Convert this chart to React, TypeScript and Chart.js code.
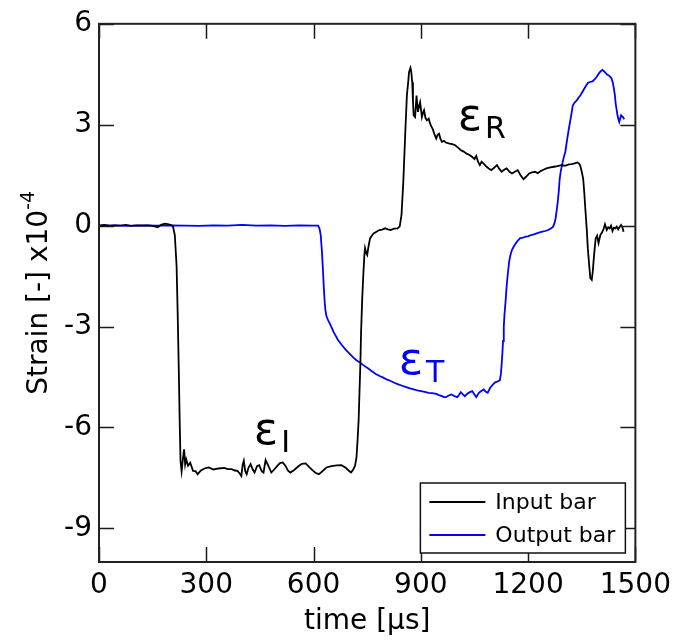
import React, { useEffect, useRef } from "react";
import { Chart, registerables } from "chart.js";

Chart.register(...registerables);

// ---- data (time in µs, strain in 1e-4) ----
const inputTime = [
  0, 15, 30, 45, 60, 75, 90, 105, 120, 135, 150, 164, 175, 185, 195, 203, 207, 212, 217, 220,
  223, 226, 228, 231, 235, 238, 241, 244, 249, 255, 263, 270, 276, 285, 295, 307, 320, 335, 350, 360,
  371, 380, 387, 393, 398, 402, 405, 409, 413, 418, 424, 430, 435, 442, 448, 455, 460, 466, 474, 482,
  490, 498, 506, 514, 522, 528, 535, 545, 556, 567, 578, 588, 599, 607, 615, 625, 636, 650, 665, 678,
  690, 698, 705, 711, 716, 720, 723, 726, 728, 731, 733, 736, 739, 742, 744, 747, 750, 754, 758, 763,
  768, 776, 784, 792, 800, 808, 816, 825, 835, 841, 846, 851, 857, 861, 865, 867, 871, 873, 876, 878,
  880, 884, 888, 890, 892, 895, 898, 903, 906, 909, 913, 917, 922, 927, 933, 938, 943, 947, 951, 955,
  959, 965, 970, 980, 988, 996, 1004, 1012, 1020, 1028, 1036, 1044, 1050, 1055, 1060, 1065, 1070, 1075, 1084, 1090,
  1097, 1105, 1113, 1120, 1126, 1133, 1140, 1148, 1155, 1163, 1171, 1179, 1187, 1195, 1203, 1211, 1219, 1227, 1235, 1243,
  1251, 1262, 1272, 1282, 1293, 1303, 1314, 1322, 1330, 1338, 1343, 1346, 1350, 1354, 1357, 1360, 1364, 1367, 1371, 1374,
  1378, 1381, 1383, 1386, 1389, 1393, 1397, 1402, 1407, 1411, 1415, 1420, 1424, 1428, 1432, 1436, 1440, 1444, 1448, 1452,
  1456, 1460, 1464, 1467,
];
const inputStrain = [
  0, 0.02, -0.01, 0.01, 0, 0.02, -0.01, 0.01, 0, 0.01, -0.01, -0.05, 0.03, 0.06, 0.04, 0.01, -0.03, -0.28, -1.2, -2.6,
  -4.2, -6.0, -7.0, -7.3, -6.9, -6.65, -7.1, -6.95, -7.14, -7.05, -7.29, -7.3, -7.39, -7.28, -7.22, -7.19, -7.25, -7.22, -7.2, -7.24,
  -7.24, -7.28, -7.29, -7.36, -7.44, -7.1, -6.99, -7.3, -7.39, -7.2, -7.09, -7.25, -7.34, -7.15, -7.12, -7.3, -7.34, -6.97, -7.15, -7.34,
  -7.25, -7.15, -7.06, -7.04, -7.15, -7.28, -7.34, -7.27, -7.17, -7.08, -7.07, -7.18, -7.29, -7.36, -7.39, -7.3, -7.19, -7.15, -7.13, -7.12,
  -7.2, -7.28, -7.34, -7.25, -7.14, -6.9, -6.4, -5.8, -5.11, -4.1, -3.14, -2.2, -1.5, -0.9, -0.67, -0.8, -0.87, -0.6, -0.38, -0.3,
  -0.23, -0.18, -0.13, -0.12, -0.08, -0.11, -0.13, -0.09, -0.08, -0.02, 0.32, 1.3, 2.88, 3.87, 4.3, 4.56, 4.69, 4.6, 4.26, 3.7,
  3.28, 3.23, 3.87, 3.6, 3.38, 3.55, 3.67, 3.23, 3.35, 3.43, 3.2, 3.13, 3.18, 3.0, 2.88, 2.72, 2.59, 2.7, 2.73, 2.58,
  2.49, 2.52, 2.47, 2.44, 2.42, 2.39, 2.32, 2.24, 2.2, 2.14, 2.1, 2.04, 1.98, 2.07, 1.9, 1.8, 1.9, 1.85, 1.75, 1.7,
  1.65, 1.72, 1.8, 1.68, 1.6, 1.66, 1.7, 1.6, 1.55, 1.6, 1.65, 1.5, 1.38, 1.46, 1.55, 1.58, 1.6, 1.56, 1.62, 1.66,
  1.7, 1.73, 1.75, 1.77, 1.8, 1.78, 1.82, 1.83, 1.85, 1.88, 1.84, 1.78, 1.6, 1.4, 1.0, 0.51, -0.1, -0.67, -1.2, -1.56,
  -1.61, -1.35, -1.07, -0.7, -0.38, -0.3, -0.52, -0.28, -0.2, -0.1, 0.04, -0.13, -0.05, -0.08, 0.0, -0.16, -0.06, -0.08, -0.03, -0.11,
  -0.04, 0.02, -0.06, -0.18,
];

const outputTime = [
  0, 40, 80, 120, 160, 200, 240, 280, 320, 360, 400, 440, 480, 520, 560, 600, 613, 617, 620, 623,
  626, 629, 631, 633, 636, 641, 647, 657, 668, 679, 689, 700, 710, 720, 731, 742, 753, 763, 774, 785,
  795, 806, 816, 826, 837, 848, 859, 870, 880, 890, 901, 911, 922, 932, 943, 951, 959, 965, 970, 978,
  986, 994, 1002, 1007, 1012, 1018, 1023, 1030, 1037, 1044, 1050, 1055, 1062, 1068, 1076, 1081, 1087, 1094, 1102, 1108,
  1113, 1121, 1124, 1126, 1128, 1130, 1132, 1134, 1137, 1140, 1143, 1147, 1151, 1155, 1160, 1166, 1171, 1177, 1185, 1193,
  1200, 1208, 1216, 1224, 1232, 1240, 1248, 1256, 1263, 1270, 1274, 1277, 1280, 1283, 1286, 1288, 1291, 1295, 1299, 1304,
  1309, 1314, 1320, 1325, 1330, 1336, 1341, 1346, 1351, 1357, 1362, 1367, 1373, 1380, 1386, 1391, 1395, 1399, 1404, 1408,
  1411, 1415, 1420, 1426, 1430, 1433, 1437, 1440, 1443, 1445, 1448, 1450, 1453, 1455, 1458, 1460, 1463, 1465, 1469,
];
const outputStrain = [
  0, 0.01, -0.01, 0.01, 0, 0.01, 0, -0.01, 0.01, 0, 0.02, 0, 0.01, -0.01, 0.01, 0, 0, -0.1, -0.28, -0.7,
  -1.26, -1.9, -2.25, -2.5, -2.69, -2.82, -2.94, -3.18, -3.39, -3.55, -3.68, -3.8, -3.91, -4.0, -4.08, -4.17, -4.25, -4.33, -4.41, -4.47,
  -4.52, -4.58, -4.62, -4.67, -4.72, -4.76, -4.8, -4.84, -4.87, -4.9, -4.92, -4.94, -4.97, -4.98, -5.0, -5.04, -5.07, -5.1, -5.1, -5.05,
  -5.02, -5.07, -5.1, -5.03, -4.95, -5.02, -5.07, -5.0, -4.95, -4.92, -5.02, -5.1, -4.98, -4.92, -4.87, -4.93, -4.97, -4.82, -4.72, -4.66,
  -4.64, -4.6, -4.4, -4.13, -3.8, -3.43, -3.0, -2.64, -2.25, -1.8, -1.46, -1.07, -0.86, -0.72, -0.62, -0.52, -0.45, -0.38, -0.36, -0.33,
  -0.32, -0.28, -0.26, -0.23, -0.2, -0.18, -0.16, -0.13, -0.09, -0.03, 0.08, 0.22, 0.45, 0.71, 1.05, 1.35, 1.6, 1.8, 2.0, 2.19,
  2.55, 2.88, 3.25, 3.57, 3.66, 3.72, 3.8, 3.87, 3.96, 4.07, 4.16, 4.24, 4.27, 4.29, 4.35, 4.41, 4.48, 4.54, 4.6, 4.63,
  4.6, 4.56, 4.5, 4.46, 4.42, 4.38, 4.25, 4.07, 3.85, 3.62, 3.42, 3.28, 3.15, 3.08, 3.2, 3.28, 3.25, 3.23, 3.16,
];

const seriesLabels = ["Input bar", "Output bar"];
const seriesColors = ["#000000", "#0000ff"];

const xTickValues = [0, 300, 600, 900, 1200, 1500];
const xTickLabels = ["0", "300", "600", "900", "1200", "1500"];
const yTickValues = [-9, -6, -3, 0, 3, 6];
const yTickLabels = ["-9", "-6", "-3", "0", "3", "6"];

const xTitle = "time [μs]";
const yTitleMain = "Strain [-] x10";
const yTitleSup = "-4";

// annotation labels: base symbol, subscript, anchor (time, strain), colour
const annoBase = ["ε", "ε", "ε"];
const annoSub = ["R", "T", "I"];
const annoTime = [1003, 838, 433];
const annoStrain = [2.84, -4.41, -6.48];
const annoColor = ["#000000", "#0000ff", "#000000"];

const FONT = "'DejaVu Sans', 'Liberation Sans', sans-serif";

const decorPlugin = {
  id: "decor",
  afterDatasetsDraw(chart: any) {
    const { ctx, chartArea: a, scales } = chart;
    const xs = scales.x;
    const ys = scales.y;
    const TICK = 15;
    ctx.save();
    // inward ticks on all four sides
    ctx.strokeStyle = "#1a1a1a";
    ctx.lineWidth = 1.5;
    ctx.beginPath();
    xTickValues.forEach((v) => {
      const px = Math.round(xs.getPixelForValue(v)) + 0.5;
      ctx.moveTo(px, a.bottom);
      ctx.lineTo(px, a.bottom - TICK);
      ctx.moveTo(px, a.top);
      ctx.lineTo(px, a.top + TICK);
    });
    yTickValues.forEach((v) => {
      const py = Math.round(ys.getPixelForValue(v)) + 0.5;
      ctx.moveTo(a.left, py);
      ctx.lineTo(a.left + TICK, py);
      ctx.moveTo(a.right, py);
      ctx.lineTo(a.right - TICK, py);
    });
    ctx.stroke();
    // frame
    ctx.lineWidth = 2;
    ctx.strokeStyle = "#222222";
    ctx.strokeRect(a.left, a.top, a.right - a.left, a.bottom - a.top);

    // annotations (epsilon with subscript)
    for (let i = 0; i < annoBase.length; i++) {
      const x = xs.getPixelForValue(annoTime[i]);
      const y = ys.getPixelForValue(annoStrain[i]);
      ctx.fillStyle = annoColor[i];
      ctx.textBaseline = "alphabetic";
      ctx.textAlign = "left";
      ctx.font = `45px ${FONT}`;
      ctx.fillText(annoBase[i], x, y);
      const w = ctx.measureText(annoBase[i]).width;
      ctx.font = `30px ${FONT}`;
      ctx.fillText(annoSub[i], x + w + 3, y + 8);
    }

    // legend box
    const bw = 205;
    const bh = 70;
    const bx = a.right - 10 - bw;
    const by = a.bottom - 9 - bh;
    ctx.fillStyle = "#ffffff";
    ctx.fillRect(bx, by, bw, bh);
    ctx.lineWidth = 1.5;
    ctx.strokeStyle = "#111111";
    ctx.strokeRect(bx, by, bw, bh);
    ctx.font = `22px ${FONT}`;
    ctx.textBaseline = "middle";
    ctx.textAlign = "left";
    chart.data.datasets.forEach((ds: any, i: number) => {
      const ry = by + 19 + i * 33;
      ctx.strokeStyle = ds.borderColor;
      ctx.lineWidth = 1.8;
      ctx.beginPath();
      ctx.moveTo(bx + 9, ry);
      ctx.lineTo(bx + 65, ry);
      ctx.stroke();
      ctx.fillStyle = "#000000";
      ctx.fillText(ds.label, bx + 75, ry + 1);
    });

    // y-axis title with superscript
    const mainFont = `28px ${FONT}`;
    const supFont = `19px ${FONT}`;
    ctx.font = mainFont;
    const wMain = ctx.measureText(yTitleMain).width;
    ctx.font = supFont;
    const wSup = ctx.measureText(yTitleSup).width;
    const total = wMain + wSup;
    const cy = (a.top + a.bottom) / 2;
    ctx.translate(47, cy);
    ctx.rotate(-Math.PI / 2);
    ctx.fillStyle = "#000000";
    ctx.textBaseline = "alphabetic";
    ctx.font = mainFont;
    ctx.fillText(yTitleMain, -total / 2, 0);
    ctx.font = supFont;
    ctx.fillText(yTitleSup, -total / 2 + wMain, -13);
    ctx.restore();
  },
};

export default function App() {
  const canvasRef = useRef<HTMLCanvasElement | null>(null);

  useEffect(() => {
    const canvas = canvasRef.current;
    if (!canvas) return;
    const inputData = inputTime.map((t, i) => ({ x: t, y: inputStrain[i] }));
    const outputData = outputTime.map((t, i) => ({ x: t, y: outputStrain[i] }));
    const tickFont = { family: FONT, size: 28 };
    const chart = new Chart(canvas, {
      type: "line",
      data: {
        datasets: [
          {
            label: seriesLabels[0],
            data: inputData,
            borderColor: seriesColors[0],
            borderWidth: 1.8,
            pointRadius: 0,
            fill: false,
            tension: 0,
          },
          {
            label: seriesLabels[1],
            data: outputData,
            borderColor: seriesColors[1],
            borderWidth: 1.8,
            pointRadius: 0,
            fill: false,
            tension: 0,
          },
        ],
      },
      options: {
        responsive: false,
        devicePixelRatio: 1,
        animation: false,
        layout: { padding: { left: 0, top: 22, right: 35, bottom: 0 } },
        plugins: {
          legend: { display: false },
          tooltip: { enabled: false },
        },
        scales: {
          x: {
            type: "linear",
            min: 0,
            max: 1500,
            afterBuildTicks: (s: any) => {
              s.ticks = xTickValues.map((v) => ({ value: v }));
            },
            afterFit: (s: any) => {
              s.height = 80;
            },
            grid: { display: false, drawTicks: false },
            border: { display: false },
            ticks: {
              font: tickFont,
              color: "#000000",
              padding: 7,
              maxRotation: 0,
              autoSkip: false,
              callback: (_v: any, i: number) => xTickLabels[i],
            },
            title: {
              display: true,
              text: xTitle,
              font: tickFont,
              color: "#000000",
              padding: { top: 0, bottom: 3 },
            },
          },
          y: {
            type: "linear",
            min: -10,
            max: 6,
            afterBuildTicks: (s: any) => {
              s.ticks = yTickValues.map((v) => ({ value: v }));
            },
            afterFit: (s: any) => {
              s.width = 99;
            },
            grid: { display: false, drawTicks: false },
            border: { display: false },
            ticks: {
              font: tickFont,
              color: "#000000",
              padding: 7,
              autoSkip: false,
              callback: (_v: any, i: number) => yTickLabels[i],
            },
          },
        },
      },
      plugins: [decorPlugin],
    } as any);
    return () => chart.destroy();
  }, []);

  return (
    <div style={{ position: "absolute", left: 0, top: 0, width: 678, height: 642, background: "#ffffff" }}>
      <canvas ref={canvasRef} width={678} height={642} style={{ display: "block" }} />
    </div>
  );
}
